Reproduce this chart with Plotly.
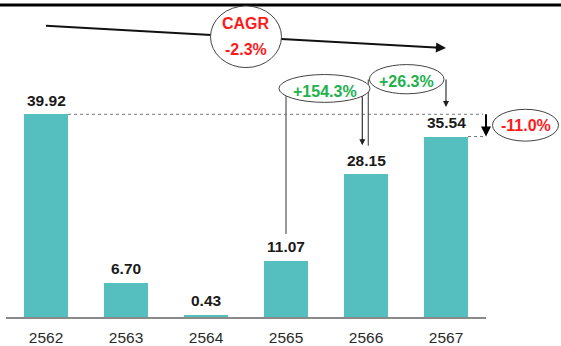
import plotly.graph_objects as go

# ---------------- data ----------------
years = ["2562", "2563", "2564", "2565", "2566", "2567"]
values = [39.92, 6.70, 0.43, 11.07, 28.15, 35.54]
growth_labels = ["+154.3%", "+26.3%"]
cagr_title = "CAGR"
cagr_value = "-2.3%"
change_label = "-11.0%"

# ---------------- layout constants ----------------
W, H = 561, 346
L, R, T, B = 6, 75, 0, 27
PW, PH = W - L - R, H - T - B
PXU = 5.11                      # pixels per data unit
YMAX = PH / PXU

BAR = "#55BFC0"
RED = "#FF1A1A"
GREEN = "#22B14C"
FONT = "Liberation Sans, Arial, sans-serif"


def PX(px):
    return (px - L) / PW


def PY(py):
    return (H - B - py) / PH


fig = go.Figure()
fig.add_trace(go.Bar(
    x=list(range(len(years))), y=values, width=0.55,
    marker=dict(color=BAR, line=dict(width=0)),
    hoverinfo="skip", showlegend=False,
))

shapes = []
ann = []


def line(x0, y0, x1, y1, color="#333", width=1.5, dash="solid"):
    shapes.append(dict(type="line", xref="paper", yref="paper",
                       x0=PX(x0), y0=PY(y0), x1=PX(x1), y1=PY(y1),
                       line=dict(color=color, width=width, dash=dash)))


def ellipse(cx, cy, rx, ry):
    shapes.append(dict(type="circle", xref="paper", yref="paper",
                       x0=PX(cx - rx), x1=PX(cx + rx), y0=PY(cy + ry), y1=PY(cy - ry),
                       fillcolor="white", line=dict(color="#444", width=1)))


def text(px, py, s, color, size=16):
    ann.append(dict(xref="paper", yref="paper", x=PX(px), y=PY(py), text="<b>%s</b>" % s,
                    showarrow=False, xanchor="center", yanchor="middle",
                    font=dict(family=FONT, size=size, color=color)))


def arrow(px, py, ax, ay, color="#222", width=1.5):
    ann.append(dict(xref="paper", yref="paper", x=PX(px), y=PY(py), text="",
                    showarrow=True, ax=ax, ay=ay, arrowhead=2, arrowsize=1,
                    arrowwidth=width, arrowcolor=color, standoff=0))


def bar_center_px(i):
    return L + (i + 0.5) * PW / len(years)


def val_py(v):
    return H - B - v * PXU


# top rule
line(0, 5, 561, 5, color="#000", width=3)

# CAGR line behind ellipse
cx0, cy0 = bar_center_px(0), 26
cx1, cy1 = bar_center_px(5), 48.3
line(cx0, cy0, cx1 - 6, cy1 - 0.3, color="#111", width=2)
arrow(cx1, cy1, -12, -0.7, color="#111", width=2)
ellipse(246, 37, 35.5, 31)
text(246, 24, cagr_title, RED)
text(246, 49.5, cagr_value, RED)

# dotted reference lines
top0 = val_py(values[0])
top5 = val_py(values[5])
line(bar_center_px(0) + 22, top0, 483, top0, color="#777", width=1, dash="dot")
line(bar_center_px(5) + 22, top5, 483, top5, color="#777", width=1, dash="dot")

# growth connector lines
x3 = bar_center_px(3)
line(x3, 89, x3, val_py(values[3]) - 27, color="#777", width=1.5)
lab4 = val_py(values[4]) - 29
line(362.3, 92, 362.3, lab4 - 3, color="#333", width=1.2)
arrow(362.3, lab4, 0, -8, color="#222", width=1.2)
line(368.3, 80, 368.3, lab4 + 0.5, color="#555", width=1.2)
x5 = bar_center_px(5)
lab5 = val_py(values[5]) - 29.7
line(x5, 80, x5, lab5 - 3, color="#333", width=1.2)
arrow(x5, lab5, 0, -8, color="#222", width=1.2)

ellipse(324.5, 89, 45.5, 14)
ellipse(406.7, 79.7, 37.3, 14.7)
text(324.5, 92.3, growth_labels[0], GREEN)
text(406.7, 81.7, growth_labels[1], GREEN)

# change arrow between first and last values
line(486, top0, 486, top5 - 4, color="#000", width=2)
arrow(486, top5, 0, -8, color="#000", width=2)
ellipse(525.5, 126, 33, 16)
text(525.5, 126, change_label, RED)

# value labels
for i, v in enumerate(values):
    ann.append(dict(x=i, y=v, xref="x", yref="y", text="<b>%.2f</b>" % v,
                    showarrow=False, yanchor="middle", yshift=14,
                    font=dict(family=FONT, size=15.5, color="#1a1a1a")))

fig.update_layout(
    width=W, height=H, margin=dict(l=L, r=R, t=T, b=B, pad=0),
    paper_bgcolor="white", plot_bgcolor="white",
    bargap=0, shapes=shapes, annotations=ann,
    xaxis=dict(range=[-0.5, len(years) - 0.5], tickvals=list(range(len(years))),
               ticktext=years, showgrid=False, zeroline=False,
               showline=True, linecolor="#8a8a8a", linewidth=1.5, ticks="",
               ticklabelstandoff=6,
               tickfont=dict(family=FONT, size=15.5, color="#2a2a2a"), fixedrange=True),
    yaxis=dict(range=[0, YMAX], visible=False, fixedrange=True),
    showlegend=False,
)

fig.write_html("out.html", config={"displayModeBar": False})
